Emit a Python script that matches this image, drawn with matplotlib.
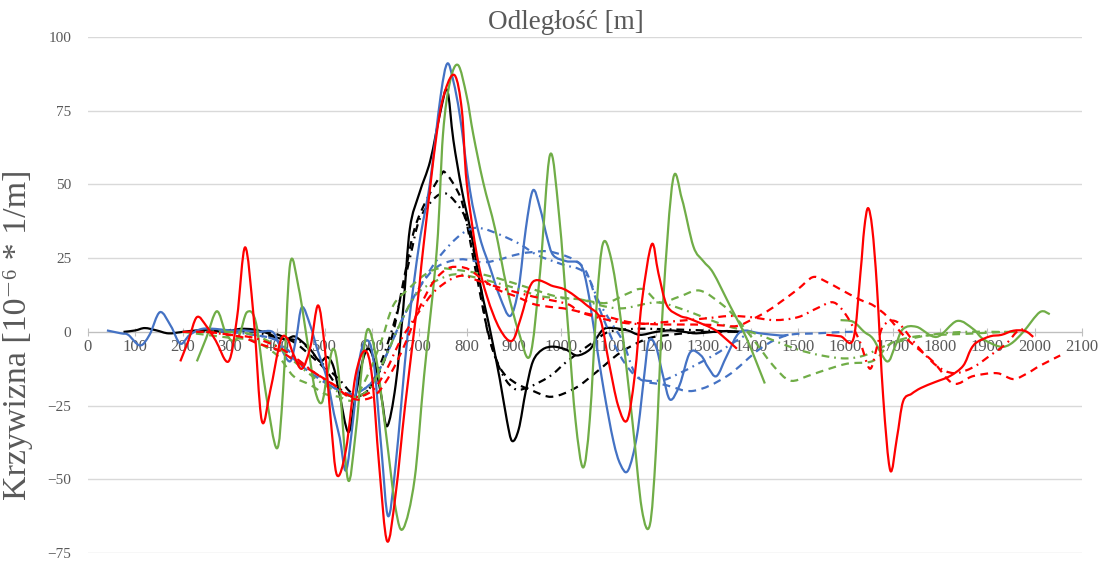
import numpy as np
import matplotlib
matplotlib.use('Agg')
import matplotlib.pyplot as plt
from matplotlib.path import Path
from matplotlib.patches import PathPatch

nan = np.nan

# ---- data ----
black_solid_x = [75, 100, 120, 145, 170, 200, 230, 260, 290, 320, 350, 380, 400, 420, 435, 450, 470, 490, 505, 518, 530, 550,
                 565, 580, 592, 605, 620, 632, 650, 666, 680, 700, 723, 745, 759, 772, 790, 810, 830, 849, 870, 885, 896, 910,
                 925, 940, 960, 983, 1010, 1033, 1060, 1075, 1090, 1110, 1140, 1166, 1200, 1230, 1260, 1285, 1320, 1350, 1378]
black_solid_y = [0, 0.5, 1.3, 0.5, -0.5, 0, 0.5, 0.5, 0, 1, 0.8, -0.5, -2, -2.4, -1.5, -3, -6, -10, -8.5, -11.5, -20, -34,
                 -22, -10, -5.7, -10, -22, -32, -18, 8, 35, 47, 58, 75, 82, 65, 48, 33, 15, 1, -16, -30, -37, -33,
                 -20, -10, -6, -5, -6, -8, -6, -2, 1, 1.3, 0.5, -1, 0, 0.5, 0, -0.5, 0, 0.3, 0]

black_dash_x = [230, 280, 330, 380, 410, 440, 470, 500, 530, 560, 590, 620, 645, 670, 690, 716, 745, 755, 780, 795, 820,
                845, 870, 900, 940, 980, 1030, 1075, 1125, 1180, 1230, 1300, 1380]
black_dash_y = [0, 0.5, 0.5, 0, -1.5, -4, -8, -12.5, -19, -22, -20, -12, 0, 20, 35, 45, 53, 54, 48, 41, 20,
                0, -12, -17, -20, -22, -19, -13.5, -7, -2.4, -1, 0, 0]

black_dd_x = [300, 350, 400, 450, 490, 530, 560, 590, 620, 650, 680, 700, 730, 750, 765, 786, 800, 825, 843, 870, 898,
              927, 976, 1012, 1067, 1100, 1150, 1200, 1300, 1380]
black_dd_y = [0, 0, -2, -3.5, -10, -16, -21, -20, -10, 5, 25, 38, 45, 47, 46, 42, 37, 20, 1, -12.5, -19,
              -19, -15, -10, -3.5, 0, 1, 1, 0.5, 0]

blue_solid_x = [40, 70, 85, 110, 130, 152, 175, 195, 215, 240, 270, 300, 330, 360, 390, 406, 427, 440, 452, 470, 484, 505,
                520, 532, 545, 560, 575, 592, 605, 620, 634, 650, 676, 700, 722, 745, 759, 772, 786, 807, 828, 849,
                870, 892, 910, 925, 940, 955, 970, 983, 1010, 1040, 1055, 1070, 1090, 1110, 1125, 1141, 1160, 1175,
                1185, 1200, 1215, 1230, 1250, 1272, 1295, 1310, 1328, 1350, 1378, 1420, 1462, 1480]
blue_solid_y = [0.5, -0.5, -1, -4.6, -1, 6.7, 2, -4, -1, 1, 1, 0.5, 0.5, 0, 0, -5, -10, -2, 8.4, 2, -5.7, -16,
                -28, -36, -47, -30, -8, -3, -12, -40, -62.5, -45, 0, 30, 50, 80, 91, 85, 73, 48, 32, 22,
                12, 5.4, 15, 35, 48, 42, 32, 26, 24, 23, 15, 0, -20, -37, -45, -47, -35, -15,
                -3, -5, -15, -23, -18, -7, -8, -12, -15, -8, 0, -0.5, -1.2, -1]

blue_dash_x = [250, 300, 350, 400, 440, 480, 520, 560, 600, 630, 660, 700, 737, 786, 835, 870, 900, 934, 983, 1046,
               1080, 1124, 1166, 1220, 1279, 1350, 1420, 1476, 1540, 1603, 1620]
blue_dash_y = [0, 0, -1, -3, -10, -15, -19, -21, -17, -8, 3, 15, 22, 24.6, 23.6, 24.6, 26, 27, 27, 22,
               8, -8, -16, -18, -20, -15, -5.7, -1.2, -0.5, 0, 0]

blue_dd_x = [300, 350, 400, 440, 480, 520, 560, 600, 630, 660, 700, 740, 780, 810, 835, 870, 910, 950, 1000, 1050,
             1080, 1110, 1131, 1160, 1208, 1250, 1321, 1360, 1400]
blue_dd_y = [0, -1, -3, -9, -14, -19, -21, -17, -8, 3, 15, 25, 32, 35, 35, 33, 30, 26, 23, 20,
             10, 2, -3.5, -15, -16.5, -14, -8, -4, 0]

green_solid_x = [230, 250, 272, 290, 305, 320, 336, 355, 375, 399, 412, 427, 445, 465, 480, 494, 505, 518, 530, 549,
                 565, 580, 592, 610, 630, 650, 666, 690, 710, 737, 750, 765, 782, 800, 814, 835, 860, 885, 910, 934,
                 955, 976, 995, 1015, 1030, 1046, 1060, 1075, 1088, 1105, 1125, 1150, 1170, 1187, 1200, 1215, 1236,
                 1255, 1279, 1300, 1321, 1356, 1392, 1430,
                 nan,
                 1590, 1617, 1640, 1659, 1688, 1705, 1722, 1751, 1793, 1836, 1870, 1891, 1927, 1950, 1976, 2011, 2032]
green_solid_y = [-10, -2, 7, 0, -3, -1, 6.7, 3, -20, -39.5, -20, 23, 15, -5, -20, -24, -15, -5.7, -15, -50,
                 -35, -10, 1, -10, -35, -60, -66.7, -50, -15, 28, 67, 85, 90.5, 80, 67, 50.7, 35, 15, 0, -8,
                 20, 60, 40, 0, -30, -46, -30, 10, 30, 25, 5, -30, -60, -65.5, -40, 10, 51.7,
                 45, 29, 24, 20, 9, -2.4, -17.5,
                 nan,
                 4, 3.4, 0, -2.4, -10, -5, 1, 1.7, -1.7, 3.7, 1, -2.4, -5, -4, 0, 6.7, 6]

green_dash_x = [200, 250, 300, 350, 400, 434, 470, 500, 530, 560, 590, 620, 645, 680, 708, 740, 780, 820, 870, 930,
                990, 1040, 1075, 1100, 1140, 1173, 1208, 1250, 1293, 1342, 1371, 1405, 1448, 1483, 1520, 1547,
                1603, 1659, 1695, 1743, 1800, 1849, 1900, 1941, 1960]
green_dash_y = [0, -1, -2, -3, -8, -15, -18, -21, -22, -23, -15, -3, 9, 15, 19, 21.5, 21, 20, 18, 15,
                12, 11, 10, 10, 13, 14.5, 10, 12, 14, 9, 4.4, -2.4, -11.5, -16.5, -15, -13.5,
                -10.8, -9.8, -4, -1.7, -1, -0.7, -0.3, 0, 0]

green_dd_x = [250, 300, 350, 400, 450, 500, 540, 570, 600, 630, 660, 690, 720, 760, 786, 830, 900, 960, 1040, 1082,
              1130, 1200, 1250, 1300, 1350, 1400, 1450, 1500, 1550, 1600, 1640, 1680, 1720, 1780, 1850, 1920, 1960]
green_dd_y = [0, 0, -1, -5, -12, -18, -21, -22, -18, -8, 3, 12, 16, 19, 19.5, 18, 15, 12, 11, 9,
              8, 10, 8, 5, 2, 0, -3, -6, -8, -9, -8, -5, -3, -1, 0, 0, 0]

red_solid_x = [195, 212, 230, 250, 270, 297, 315, 332, 350, 367, 385, 406, 420, 435, 452, 470, 486, 500, 513, 526,
               545, 565, 585, 600, 615, 632, 650, 670, 697, 708, 737, 755, 775, 790, 800, 822, 843, 870, 896, 915,
               940, 983, 1012, 1054, 1082, 1100, 1120, 1139, 1155, 1170, 1191, 1205, 1223, 1250, 1272, 1321, 1345, 1371,
               nan,
               1560, 1590, 1617, 1632, 1640, 1648, 1657, 1667, 1680, 1695, 1709, 1722, 1740, 1760, 1790, 1821,
               1849, 1865, 1878, 1906, 1930, 1955, 1980, 1997]
red_solid_y = [-10, -3, 5, 2, -3, -10, 5, 28.7, 5, -30, -20, -3.4, -2, -8, -12.5, -5, 9, -5, -30, -48.6,
               -40, -15, -6.4, -15, -45, -71, -55, -25, 11, 28, 67.6, 82, 87, 75, 50.7, 25.7, 12, 1, -3, 5,
               17, 15.5, 14, 9, 4.4, -10, -25, -30, -15, 10, 29.7, 20, 9, 5.5, 4.4, 1, -2, -5.7,
               nan,
               -1, -1.5, -2.4, 20, 35, 42, 35, 15, -22, -47, -36, -23.6, -21, -19, -17, -15,
               -11.5, -6, -3.5, -1.5, -1, 0.4, 0.3, -1.7]

red_dash_x = [200, 250, 300, 330, 360, 400, 430, 460, 490, 520, 550, 580, 610, 640, 670, 700, 730, 760, 786, 807,
              840, 870, 905, 940, 975, 1012, 1060, 1100, 1140, 1181, 1230, 1280, 1330, 1371, 1405, 1435, 1462, 1500,
              1532, 1560, 1589, 1630, 1659, 1690, 1730, 1785, 1828, 1870, 1920, 1955, 1985, 2011, 2054]
red_dash_y = [0, 0, -1, -2, -4, -6, -9, -12, -15, -18, -22, -23, -21, -14, -4, 8, 17, 21.5, 22, 21,
              17, 14, 12, 9.5, 8.5, 7.8, 6, 5, 3.4, 2.7, 2.5, 2.5, 2.3, 2, 4.4, 7, 10, 14.5,
              18.6, 17, 14.5, 11, 9, 5, -2.4, -10, -17.5, -15, -14, -16, -14, -11.5, -8]

red_dd_x = [250, 300, 350, 400, 440, 480, 520, 560, 600, 630, 660, 700, 737, 786, 830, 870, 940, 1012, 1040, 1100,
            1160, 1230, 1300, 1356, 1400, 1450, 1500, 1540, 1575, 1603, 1631, 1652, 1667, 1680, 1709, 1751, 1793,
            1830, 1870, 1906, 1940, 1962, 1975]
red_dd_y = [0, -1, -2, -5, -9, -14, -18, -22, -20, -13, -3, 7, 14.5, 19, 17, 15, 12, 9.5, 6.7, 4,
            2.7, 3.5, 4.5, 5.4, 5, 4, 5, 8, 10, 5.4, -3.4, -12.5, -5, 2, 3.4, -4.6, -11.5,
            -14, -12, -8, -4, 0, 1]

x_ticks = list(range(0, 2101, 100))
y_ticks = [-75, -50, -25, 0, 25, 50, 75, 100]


def smooth_path(xs, ys):
    # Excel-like "smoothed line": cubic Bezier segments through the points
    xs = np.asarray(xs, float)
    ys = np.asarray(ys, float)
    verts, codes = [], []
    breaks = np.where(np.isnan(xs))[0]
    starts = np.concatenate([[0], breaks + 1])
    ends = np.concatenate([breaks, [len(xs)]])
    for s, e in zip(starts, ends):
        p = np.column_stack([xs[s:e], ys[s:e]])
        n = len(p)
        verts.append(p[0])
        codes.append(Path.MOVETO)
        for i in range(n - 1):
            a = p[i - 1] if i > 0 else p[i]
            d = p[i + 2] if i + 2 < n else p[i + 1]
            verts += [p[i] + (p[i + 1] - a) / 6, p[i + 1] - (d - p[i]) / 6, p[i + 1]]
            codes += [Path.CURVE4] * 3
    return Path(verts, codes)


# ---- style ----
plt.rcParams['font.family'] = ['Liberation Serif', 'DejaVu Serif']
txt = '#595959'
black, blue, green, red = '#000000', '#4472C4', '#70AD47', '#FF0000'
dash = (0, (3.5, 2.5))
dashdot = (0, (3.5, 2.2, 0.8, 2.2))
lw = 1.6

fig = plt.figure(figsize=(11, 5.62), dpi=100)
ax = fig.add_axes([0.08, 0.016, 0.9036, 0.918])

series = [
    (black_solid_x, black_solid_y, black, '-'),
    (black_dash_x, black_dash_y, black, dash),
    (black_dd_x, black_dd_y, black, dashdot),
    (blue_solid_x, blue_solid_y, blue, '-'),
    (blue_dash_x, blue_dash_y, blue, dash),
    (blue_dd_x, blue_dd_y, blue, dashdot),
    (green_solid_x, green_solid_y, green, '-'),
    (green_dash_x, green_dash_y, green, dash),
    (green_dd_x, green_dd_y, green, dashdot),
    (red_solid_x, red_solid_y, red, '-'),
    (red_dash_x, red_dash_y, red, dash),
    (red_dd_x, red_dd_y, red, dashdot),
]
for xs, ys, c, ls in series:
    ax.add_patch(PathPatch(smooth_path(xs, ys), fill=False, edgecolor=c, linestyle=ls,
                           linewidth=lw, joinstyle='round', capstyle='butt', zorder=3))

ax.set_xlim(0, 2100)
ax.set_ylim(-75, 100)
ax.set_yticks(y_ticks)
ax.set_xticks(x_ticks)
ax.grid(axis='y', color='#d9d9d9', linewidth=1)
ax.set_axisbelow(True)
for s in ['top', 'right', 'left']:
    ax.spines[s].set_visible(False)
ax.spines['bottom'].set_position(('data', 0))
ax.spines['bottom'].set_color('#bfbfbf')
ax.tick_params(axis='x', direction='inout', length=6, color='#bfbfbf', labelsize=12, labelcolor=txt, pad=2)
ax.tick_params(axis='y', length=0, labelsize=11, labelcolor=txt, pad=12)
ax.set_xticklabels([str(t) for t in x_ticks])

fig.text(0.514, 0.96, 'Odległość [m]', ha='center', va='center', fontsize=19.5, color=txt)
fig.text(0.016, 0.404, 'Krzywizna [10⁻⁶ * 1/m]', ha='center', va='center', rotation=90, fontsize=24.5, color=txt)

fig.savefig('out.png', dpi=100)
